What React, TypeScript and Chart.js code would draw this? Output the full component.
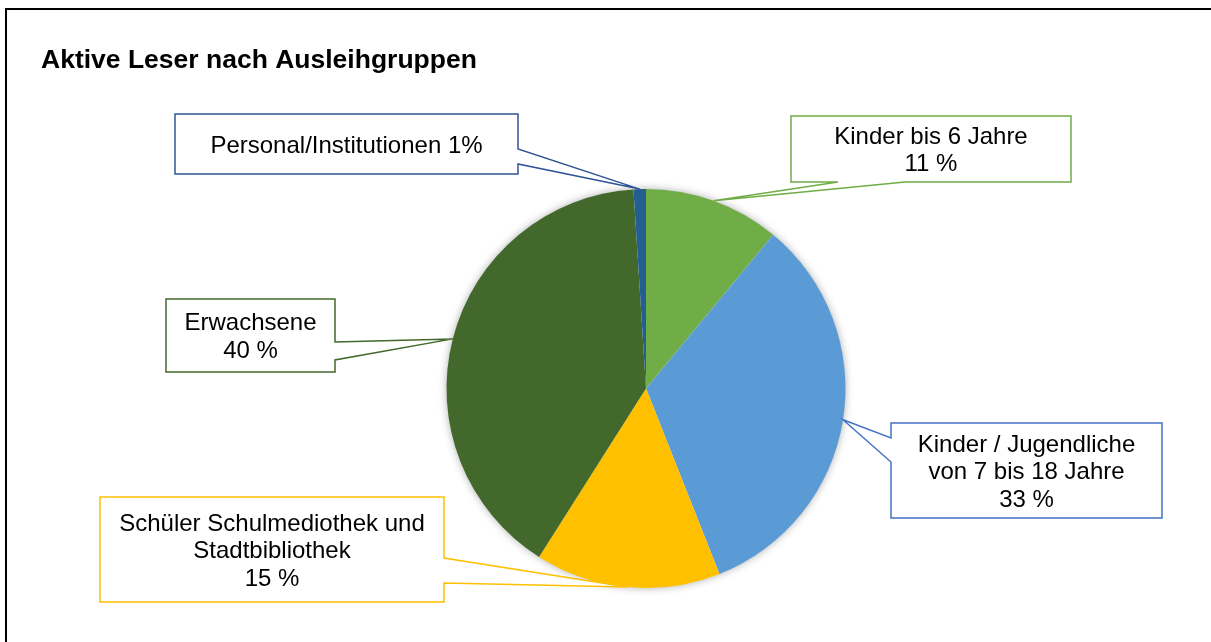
import React, { useEffect, useRef } from "react";
import { Chart, registerables } from "chart.js";

Chart.register(...registerables);

const title = "Aktive Leser nach Ausleihgruppen";
const categories = [
  "Kinder bis 6 Jahre",
  "Kinder / Jugendliche von 7 bis 18 Jahre",
  "Schüler Schulmediothek und Stadtbibliothek",
  "Erwachsene",
  "Personal/Institutionen",
];
const shares = [11, 33, 15, 40, 1];
const labelLines = [
  ["Kinder bis 6 Jahre", "11 %"],
  ["Kinder / Jugendliche", "von 7 bis 18 Jahre", "33 %"],
  ["Schüler Schulmediothek und", "Stadtbibliothek", "15 %"],
  ["Erwachsene", "40 %"],
  ["Personal/Institutionen 1%"],
];
const sliceColors = ["#70AD47", "#5B9BD5", "#FFC000", "#43682B", "#255E91"];
const boxColors = ["#70AD47", "#4472C4", "#FFC000", "#43682B", "#2F5597"];

// callout boxes: [x0, y0, x1, y1], wedge side and the two anchor offsets
const boxes = [
  { r: [791, 116, 1071, 182], side: "bottom", a: 838, b: 905 },
  { r: [891, 423, 1162, 518], side: "left", a: 438, b: 462 },
  { r: [100, 497, 444, 602], side: "right", a: 558, b: 583 },
  { r: [166, 299, 335, 372], side: "right", a: 342, b: 360 },
  { r: [175, 114, 518, 174], side: "right", a: 149, b: 164 },
];

const FONT = '"Liberation Sans", Arial, sans-serif';

const decorPlugin = {
  id: "decor",
  beforeDraw(chart: any) {
    const ctx = chart.ctx;
    ctx.save();
    ctx.fillStyle = "#ffffff";
    ctx.fillRect(0, 0, chart.width, chart.height);
    ctx.strokeStyle = "#000000";
    ctx.lineWidth = 2;
    ctx.strokeRect(6, 9, 1400, 1000);
    ctx.fillStyle = "#000000";
    ctx.font = `bold 26.5px ${FONT}`;
    ctx.textAlign = "left";
    ctx.textBaseline = "alphabetic";
    ctx.fillText(title, 41, 68);
    ctx.restore();
  },
  beforeDatasetsDraw(chart: any) {
    const meta = chart.getDatasetMeta(0);
    const arc = meta.data[0];
    if (!arc) return;
    const ctx = chart.ctx;
    ctx.save();
    ctx.shadowColor = "rgba(0,0,0,0.35)";
    ctx.shadowBlur = 9;
    ctx.fillStyle = "#ffffff";
    ctx.beginPath();
    ctx.arc(arc.x, arc.y, arc.outerRadius - 0.5, 0, Math.PI * 2);
    ctx.fill();
    ctx.restore();
  },
  afterDraw(chart: any) {
    const ctx = chart.ctx;
    const meta = chart.getDatasetMeta(0);
    meta.data.forEach((el: any, i: number) => {
      const mid = (el.startAngle + el.endAngle) / 2;
      const tx = el.x + Math.cos(mid) * el.outerRadius;
      const ty = el.y + Math.sin(mid) * el.outerRadius;
      const bx = boxes[i];
      const [x0, y0, x1, y1] = bx.r;
      ctx.save();
      ctx.beginPath();
      ctx.moveTo(x0, y0);
      if (bx.side === "top") {
        ctx.lineTo(bx.a, y0);
        ctx.lineTo(tx, ty);
        ctx.lineTo(bx.b, y0);
      }
      ctx.lineTo(x1, y0);
      if (bx.side === "right") {
        ctx.lineTo(x1, bx.a);
        ctx.lineTo(tx, ty);
        ctx.lineTo(x1, bx.b);
      }
      ctx.lineTo(x1, y1);
      if (bx.side === "bottom") {
        ctx.lineTo(bx.b, y1);
        ctx.lineTo(tx, ty);
        ctx.lineTo(bx.a, y1);
      }
      ctx.lineTo(x0, y1);
      if (bx.side === "left") {
        ctx.lineTo(x0, bx.b);
        ctx.lineTo(tx, ty);
        ctx.lineTo(x0, bx.a);
      }
      ctx.closePath();
      ctx.fillStyle = "#ffffff";
      ctx.fill();
      ctx.strokeStyle = boxColors[i];
      ctx.lineWidth = 1.5;
      ctx.lineJoin = "miter";
      ctx.stroke();

      const lines = labelLines[i];
      const lh = 27.5;
      const cx = (x0 + x1) / 2;
      const cy = (y0 + y1) / 2;
      ctx.fillStyle = "#000000";
      ctx.font = `24px ${FONT}`;
      ctx.textAlign = "center";
      ctx.textBaseline = "alphabetic";
      lines.forEach((ln, k) => {
        const yc = cy + (k - (lines.length - 1) / 2) * lh;
        ctx.fillText(ln, cx, yc + 8.6);
      });
      ctx.restore();
    });
  },
};

export default function App() {
  const ref = useRef<HTMLCanvasElement>(null);
  useEffect(() => {
    if (!ref.current) return;
    const chart = new Chart(ref.current, {
      type: "pie",
      data: {
        labels: categories,
        datasets: [
          {
            data: shares,
            backgroundColor: sliceColors,
            borderWidth: 0,
          },
        ],
      },
      options: {
        responsive: false,
        animation: false,
        devicePixelRatio: 1,
        layout: { padding: { left: 446.5, right: 365.5, top: 189, bottom: 54 } },
        plugins: {
          legend: { display: false },
          title: { display: false },
          tooltip: { enabled: false },
        },
      },
      plugins: [decorPlugin],
    });
    return () => chart.destroy();
  }, []);
  return (
    <div style={{ position: "fixed", left: 0, top: 0, width: 1211, height: 642, background: "#fff" }}>
      <canvas ref={ref} width={1211} height={642} />
    </div>
  );
}
